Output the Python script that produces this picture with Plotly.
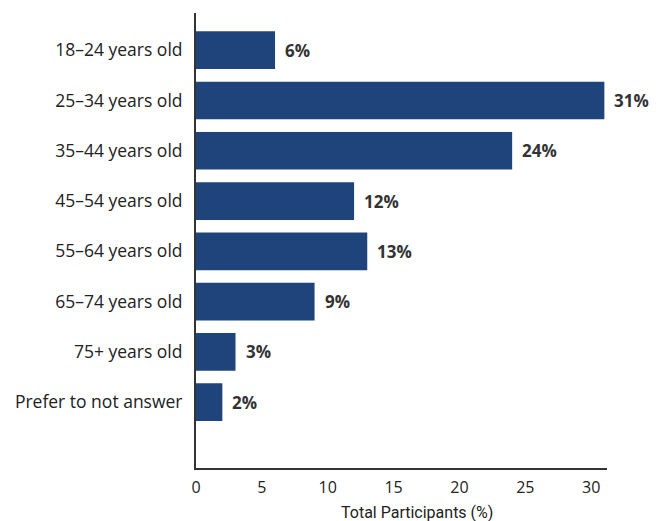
import plotly.graph_objects as go

categories = ["18–24 years old", "25–34 years old", "35–44 years old", "45–54 years old",
              "55–64 years old", "65–74 years old", "75+ years old", "Prefer to not answer"]
values = [6, 31, 24, 12, 13, 9, 3, 2]
x_ticks = [0, 5, 10, 15, 20, 25, 30]

BAR = "#1F447C"
FONT = "Open Sans, Lato, sans-serif"

fig = go.Figure()
fig.add_trace(go.Bar(
    x=values, y=categories, orientation="h",
    marker=dict(color=BAR, line=dict(width=0)),
    width=0.75, hoverinfo="skip",
))

for c, v in zip(categories, values):
    fig.add_annotation(x=v, y=c, text=f"<b>{v}%</b>", showarrow=False,
                       xanchor="left", yanchor="middle", xshift=8,
                       font=dict(family=FONT, size=17, color="#333333"))

fig.add_annotation(xref="paper", yref="paper", x=0.538, y=0, yshift=-33,
                   text="Total Participants (%)", showarrow=False,
                   xanchor="center", yanchor="top",
                   font=dict(family="Roboto, sans-serif", size=16, color="#222222"))

# the page body has an 8px margin, so the figure is sized/placed to compensate
fig.update_layout(
    width=655, height=513,
    margin=dict(l=188, r=56, t=5, b=53),
    plot_bgcolor="white", paper_bgcolor="white",
    showlegend=False,
    xaxis=dict(range=[0, 31.2], tickvals=x_ticks, showgrid=False, zeroline=False,
               showline=True, linecolor="#333333", linewidth=2, ticks="",
               ticklabelstandoff=4,
               tickfont=dict(family=FONT, size=16, color="#222222")),
    yaxis=dict(categoryorder="array", categoryarray=categories,
               range=[8.31, -0.74], showgrid=False, zeroline=False,
               showline=True, linecolor="#333333", linewidth=2, ticks="",
               ticklabelstandoff=8,
               tickfont=dict(family=FONT, size=17.5, color="#222222")),
)

fig.write_html("out.html")
